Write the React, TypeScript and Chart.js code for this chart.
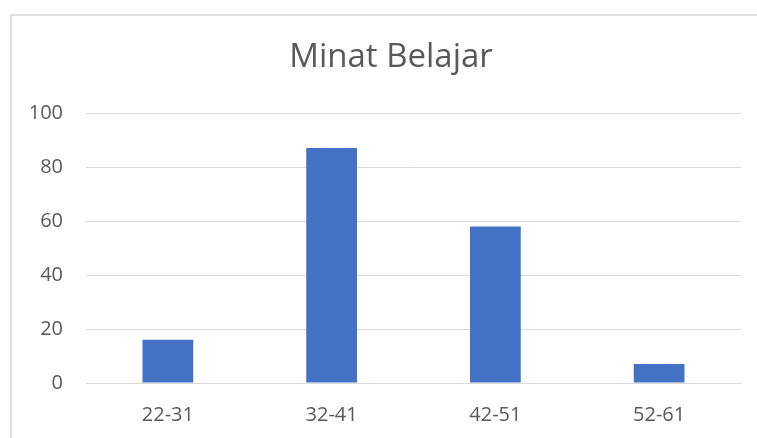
import React, { useEffect, useRef } from "react";
import { Chart, registerables } from "chart.js";

Chart.register(...registerables);

const categories = ["22-31", "32-41", "42-51", "52-61"];
const values = [16, 87, 58, 7];
const titleText = "Minat Belajar";

const FONT = "'Open Sans', Lato, sans-serif";

const titlePlugin = {
  id: "centerTitle",
  afterDraw(chart: any) {
    const ctx = chart.ctx;
    ctx.save();
    ctx.font = `normal 33px ${FONT}`;
    ctx.fillStyle = "#595959";
    ctx.textAlign = "center";
    ctx.textBaseline = "middle";
    ctx.fillText(titleText, 391, 58);
    ctx.restore();
  },
};

export default function App() {
  const ref = useRef<HTMLCanvasElement | null>(null);

  useEffect(() => {
    if (!ref.current) return;
    const chart = new Chart(ref.current, {
      type: "bar",
      data: {
        labels: categories,
        datasets: [
          {
            data: values,
            backgroundColor: "#4472c4",
            borderWidth: 0,
            categoryPercentage: 1,
            barPercentage: 0.31,
          },
        ],
      },
      plugins: [titlePlugin],
      options: {
        responsive: false,
        animation: false,
        layout: { padding: { left: 0, right: 16, top: 113, bottom: 0 } },
        plugins: {
          legend: { display: false },
          tooltip: { enabled: false },
          title: { display: false },
        },
        scales: {
          x: {
            grid: { display: false, drawTicks: false },
            border: { display: true, color: "#d9d9d9", width: 1 },
            ticks: {
              color: "#595959",
              padding: 20,
              font: { family: FONT, size: 20, lineHeight: 1.2 },
            },
            afterFit: (s: any) => {
              s.height = 55;
            },
          },
          y: {
            min: 0,
            max: 100,
            grid: { color: "#d9d9d9", drawTicks: false, lineWidth: 1 },
            border: { display: false },
            ticks: {
              stepSize: 20,
              color: "#595959",
              padding: 23,
              font: { family: FONT, size: 20, lineHeight: 1.2 },
            },
            afterFit: (s: any) => {
              s.width = 86;
            },
          },
        },
      },
    });
    return () => chart.destroy();
  }, []);

  return (
    <div style={{ position: "fixed", left: 0, top: 0, width: 757, height: 438, background: "#fff", overflow: "hidden" }}>
      <div
        style={{
          position: "absolute",
          left: 10,
          top: 14,
          width: 800,
          height: 500,
          border: "2px solid #e0e0e0",
          boxSizing: "border-box",
        }}
      />
      <canvas ref={ref} width={757} height={438} style={{ position: "absolute", left: 0, top: 0 }} />
    </div>
  );
}
